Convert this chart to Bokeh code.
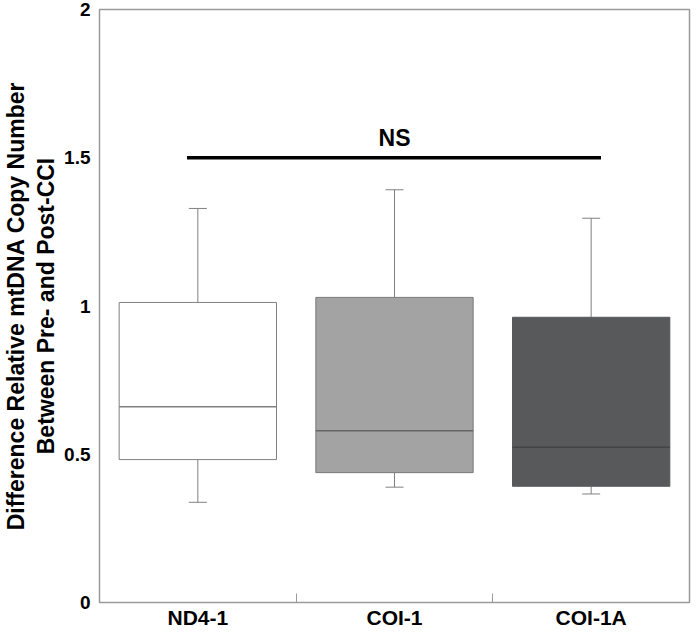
import numpy as np
from bokeh.plotting import figure
from bokeh.models import (Range1d, FixedTicker, ColumnDataSource, Whisker, TeeHead, Label)
from bokeh.embed import file_html
from bokeh.resources import INLINE

# ---- data ----
categories = ["ND4-1", "COI-1", "COI-1A"]
lower_whisker = [0.338, 0.389, 0.366]
q1 = [0.482, 0.438, 0.392]
median = [0.660, 0.579, 0.524]
q3 = [1.012, 1.029, 0.962]
upper_whisker = [1.329, 1.392, 1.296]
box_fill = ["#ffffff", "#a3a3a3", "#58595b"]
box_line = ["#808080", "#7a7a7a", "#58595b"]
median_color = ["#808080", "#666666", "#444444"]

y_ticks = [0, 0.5, 1, 1.5, 2]
y_tick_labels = ["0", "0.5", "1", "1.5", "2"]
sig_y = 1.5
sig_label = "NS"
sig_from = -0.055   # offsets from first / last category centre
sig_to = 0.05

FONT = "Liberation Sans"
BOX_W = 0.8

xs = np.arange(len(categories)) + 0.5
src = ColumnDataSource(dict(
    x=xs, x0=xs - BOX_W / 2, x1=xs + BOX_W / 2,
    lw=lower_whisker, q1=q1, med=median, q3=q3, uw=upper_whisker,
    fill=box_fill, line=box_line, medc=median_color,
))

p = figure(width=692, height=631, output_backend="svg", toolbar_location=None,
           x_range=Range1d(0, len(categories)), y_range=Range1d(0, 2),
           min_border_left=91, min_border_right=3, min_border_top=9, min_border_bottom=25)

p.grid.visible = False
p.outline_line_color = "#9a9a9a"
p.outline_line_width = 1.5
p.background_fill_color = "white"
p.border_fill_color = "white"

# whiskers
p.add_layout(Whisker(source=src, base="x", lower="q3", upper="uw", dimension="height",
                     line_color="#808080", line_width=1,
                     upper_head=TeeHead(size=18, line_color="#808080", line_width=1),
                     lower_head=None))
p.add_layout(Whisker(source=src, base="x", lower="lw", upper="q1", dimension="height",
                     line_color="#808080", line_width=1,
                     lower_head=TeeHead(size=18, line_color="#808080", line_width=1),
                     upper_head=None))

# boxes
p.vbar(x="x", width=BOX_W, bottom="q1", top="q3", source=src,
       fill_color="fill", line_color="line", line_width=1)
# medians
p.segment(x0="x0", x1="x1", y0="med", y1="med", source=src,
          line_color="medc", line_width=1.5)

# significance bar
p.segment(x0=[xs[0] + sig_from], x1=[xs[-1] + sig_to], y0=[sig_y], y1=[sig_y],
          line_color="black", line_width=3.5)
p.add_layout(Label(x=float(xs[1]), y=sig_y, text=sig_label, text_font=FONT,
                   text_font_style="bold", text_font_size="23px", text_align="center",
                   text_baseline="alphabetic", y_offset=20, text_color="black"))

# x axis
xa = p.xaxis[0]
xa.axis_label = None
xa.ticker = FixedTicker(ticks=list(xs), minor_ticks=list(np.arange(1, len(categories))))
xa.major_label_overrides = {float(x): c for x, c in zip(xs, categories)}
xa.axis_line_color = None
xa.major_tick_line_color = None
xa.major_tick_in = 0
xa.major_tick_out = 0
xa.minor_tick_line_color = "#9a9a9a"
xa.minor_tick_in = 9
xa.minor_tick_out = 0
xa.major_label_text_font = FONT
xa.major_label_text_font_style = "bold"
xa.major_label_text_font_size = "21px"
xa.major_label_text_color = "black"
xa.major_label_standoff = 3

# y axis
ya = p.yaxis[0]
ya.ticker = FixedTicker(ticks=y_ticks)
ya.major_label_overrides = {float(t): l for t, l in zip(y_ticks, y_tick_labels)}
ya.axis_line_color = None
ya.major_tick_line_color = None
ya.minor_tick_line_color = None
ya.major_tick_in = 0
ya.major_tick_out = 0
ya.minor_tick_in = 0
ya.minor_tick_out = 0
ya.major_label_text_font = FONT
ya.major_label_text_font_style = "bold"
ya.major_label_text_font_size = "19px"
ya.major_label_text_color = "black"
ya.major_label_standoff = 9
ya.axis_label = "Difference Relative mtDNA Copy Number\nBetween Pre- and Post-CCI"
ya.axis_label_text_font = FONT
ya.axis_label_text_font_style = "bold"
ya.axis_label_text_font_size = "23px"
ya.axis_label_text_line_height = 1.15
ya.axis_label_text_color = "black"
ya.axis_label_standoff = 2

open("out.html", "w").write(file_html(p, INLINE))
